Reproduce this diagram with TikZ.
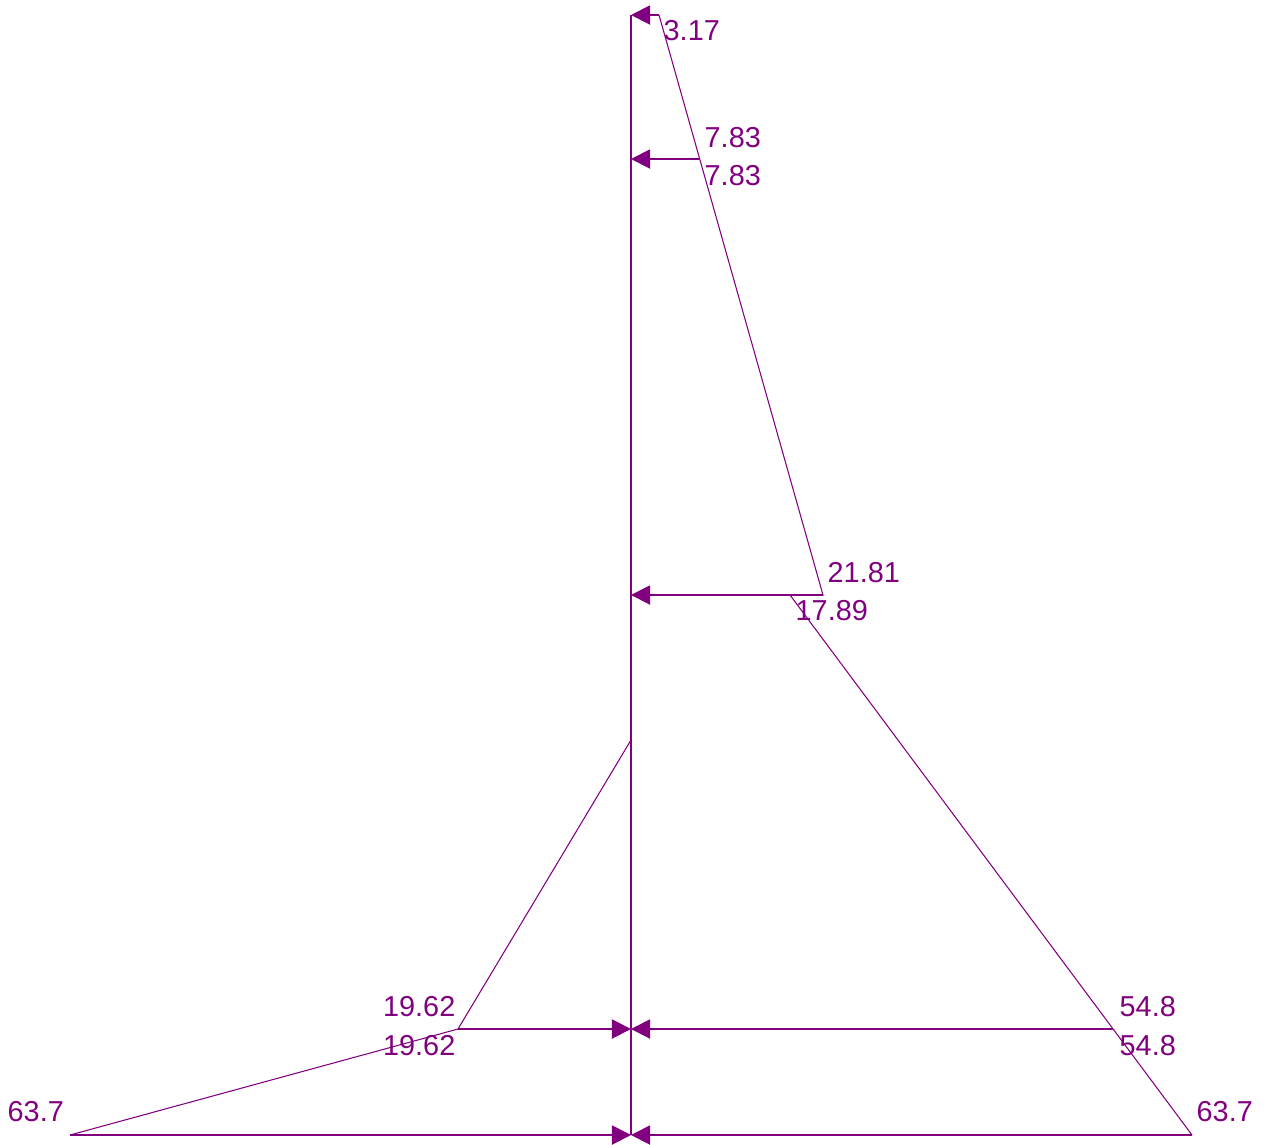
\documentclass[tikz,border=0pt]{standalone}
\usepackage{fontspec}
\setmainfont{Liberation Sans}
\usetikzlibrary{arrows.meta}
\definecolor{diag}{RGB}{128,0,128}
\begin{document}
\begin{tikzpicture}[x=0.01cm,y=-0.01cm,
  thin line/.style={diag,line width=0.3pt},
  load/.style={diag,line width=0.55pt,-{Triangle[length=0.19cm,width=0.19cm]}},
  val/.style={diag,inner sep=0pt,font=\fontsize{8.2}{9.8}\selectfont}]
\useasboundingbox (0,0) rectangle (1269,1145);
% axis
\coordinate (T) at (631,15);
\coordinate (Bt) at (631,1135);
\coordinate (M) at (631,740);
\draw [thin line](T)--(Bt);
% right diagram
\coordinate (R0) at (659,15);
\coordinate (R1) at (699,159);
\coordinate (R2) at (823,595);
\coordinate (R3) at (790,595);
\coordinate (R4) at (1113,1029);
\coordinate (R5) at (1192,1135);
\draw [thin line](R0)--(R2)--(R3)--(R5);
% left diagram
\coordinate (L1) at (458,1029);
\coordinate (L2) at (70,1135);
\draw [thin line](M)--(L1)--(L2);
% loads
\draw [load](R0)--(T);
\draw [load](R1)--(T|-R1);
\draw [load](R2)--(T|-R2);
\draw [load](R4)--(T|-R4);
\draw [load](R5)--(Bt);
\draw [load](L1)--(T|-L1);
\draw [load](L2)--(Bt);
% values
\node [val,anchor=west] (v1) at (663,31) {3.17};
\node [val,anchor=west] (v2) at (704,138) {7.83};
\node [val,anchor=west] (v3) at (704,176) {7.83};
\node [val,anchor=west] (v4) at (827,573) {21.81};
\node [val,anchor=west] (v5) at (795,611) {17.89};
\node [val,anchor=east] (v6) at (456,1007) {19.62};
\node [val,anchor=east] (v7) at (456,1046) {19.62};
\node [val,anchor=west] (v8) at (1119,1007) {54.8};
\node [val,anchor=west] (v9) at (1119,1046) {54.8};
\node [val,anchor=west] (v10) at (7,1112) {63.7};
\node [val,anchor=west] (v11) at (1196,1112) {63.7};
\end{tikzpicture}
\end{document}
